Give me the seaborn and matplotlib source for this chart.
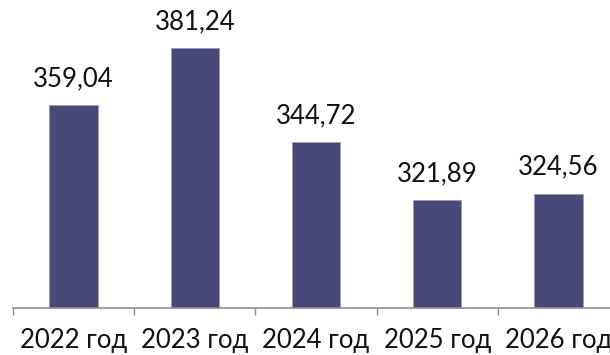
import matplotlib
matplotlib.use("Agg")
import matplotlib.pyplot as plt
import seaborn as sns
import pandas as pd

years = ["2022 год", "2023 год", "2024 год", "2025 год", "2026 год"]
values = [359.04, 381.24, 344.72, 321.89, 324.56]

bar_color = "#474a78"
axis_color = "#8e8e8e"

sns.set_style("white")
plt.rcParams["font.family"] = ["Lato", "DejaVu Sans"]

df = pd.DataFrame({"year": years, "value": values})

fig = plt.figure(figsize=(6.1, 3.55), dpi=100)
ax = fig.add_axes([13 / 610, 1 - 308 / 355, 606 / 610, 308 / 355])

sns.barplot(data=df, x="year", y="value", color=bar_color, width=0.4,
            saturation=1, edgecolor="#9a9cb8", linewidth=0.6, ax=ax)

for i, v in enumerate(values):
    ax.annotate(f"{v:.2f}".replace(".", ","), (i, v), xytext=(0, 19),
                textcoords="offset points", ha="center", va="center",
                fontsize=18.5, color="#111111")

ax.set_ylim(280, 400)
ax.set_xlim(-0.5, 4.5)
ax.set_xlabel("")
ax.set_ylabel("")
ax.set_yticks([])
ax.set_xticks([x - 0.5 for x in range(6)], minor=True)
ax.tick_params(axis="x", which="minor", length=5, width=1, color=axis_color,
               bottom=True)
ax.tick_params(axis="x", which="major", length=0, pad=14.5, labelsize=18.5,
               labelcolor="#111111")
for s in ["top", "right", "left"]:
    ax.spines[s].set_visible(False)
ax.spines["bottom"].set_color(axis_color)
ax.spines["bottom"].set_linewidth(1.2)
ax.patch.set_alpha(0)

fig.savefig("out.png", dpi=100)
